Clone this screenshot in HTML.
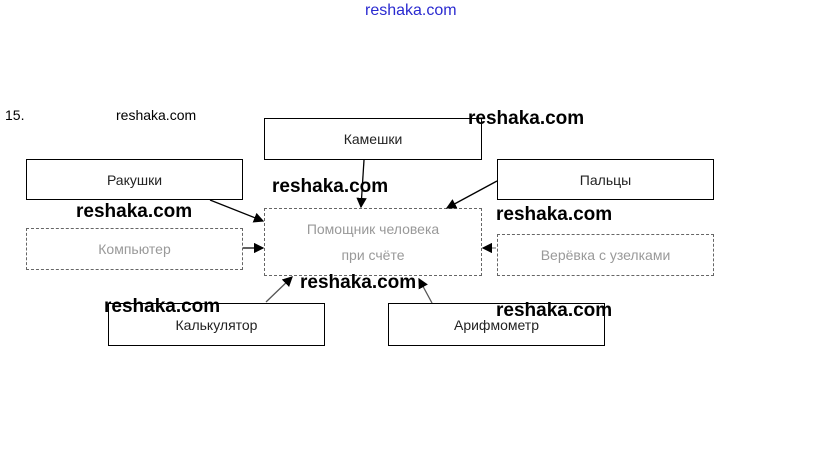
<!DOCTYPE html>
<html><head><meta charset="utf-8"><style>
body{margin:0;width:823px;height:451px;background:#fff;position:relative;overflow:hidden;font-family:"Liberation Sans","DejaVu Sans",sans-serif}
.b{position:absolute;border:1px solid #000;box-sizing:border-box;display:flex;align-items:center;justify-content:center;font-size:14px;color:#222;text-align:center}
.f{border:1px dashed #666;color:#999}
.w{position:absolute;font-weight:bold;font-size:19px;color:#000}
</style></head><body>
<div style="position:absolute;left:365px;top:2px;font-size:16px;color:#2a2ad0">reshaka.com</div>
<div style="position:absolute;left:5px;top:107px;font-size:14px">15.</div>
<div style="position:absolute;left:116px;top:107px;font-size:14px">reshaka.com</div>
<div class="b" style="left:264px;top:118px;width:218px;height:42px">Камешки</div>
<div class="b" style="left:26px;top:159px;width:217px;height:41px">Ракушки</div>
<div class="b f" style="left:26px;top:228px;width:217px;height:42px">Компьютер</div>
<div class="b f" style="left:264px;top:208px;width:218px;height:68px"><div style="line-height:26px">Помощник человека<br>при счёте</div></div>
<div class="b" style="left:497px;top:159px;width:217px;height:41px">Пальцы</div>
<div class="b f" style="left:497px;top:234px;width:217px;height:42px">Верёвка с узелками</div>
<div class="b" style="left:108px;top:303px;width:217px;height:43px">Калькулятор</div>
<div class="b" style="left:388px;top:303px;width:217px;height:43px">Арифмометр</div>
<svg width="823" height="451" style="position:absolute;left:0;top:0">
<defs><marker id="a" markerWidth="8" markerHeight="8" refX="7" refY="4" orient="auto"><path d="M0,0L8,4L0,8z" fill="#000"/></marker></defs>
<g stroke="#000" stroke-width="1.3" fill="none" marker-end="url(#a)">
<line x1="364" y1="160" x2="361" y2="207"/>
<line x1="210" y1="200" x2="263" y2="221"/>
<line x1="243" y1="248" x2="263" y2="248"/>
<line x1="497" y1="181" x2="447" y2="208"/>
<line x1="496" y1="248" x2="483" y2="248" stroke="#888"/>
<line x1="266" y1="302" x2="292" y2="277" stroke="#555"/>
<line x1="432" y1="303" x2="419" y2="279" stroke="#555"/>
</g></svg>
<div class="w" style="left:468px;top:108px">reshaka.com</div>
<div class="w" style="left:272px;top:176px">reshaka.com</div>
<div class="w" style="left:76px;top:201px">reshaka.com</div>
<div class="w" style="left:496px;top:204px">reshaka.com</div>
<div class="w" style="left:300px;top:272px">reshaka.com</div>
<div class="w" style="left:104px;top:296px">reshaka.com</div>
<div class="w" style="left:496px;top:300px">reshaka.com</div>
</body></html>
